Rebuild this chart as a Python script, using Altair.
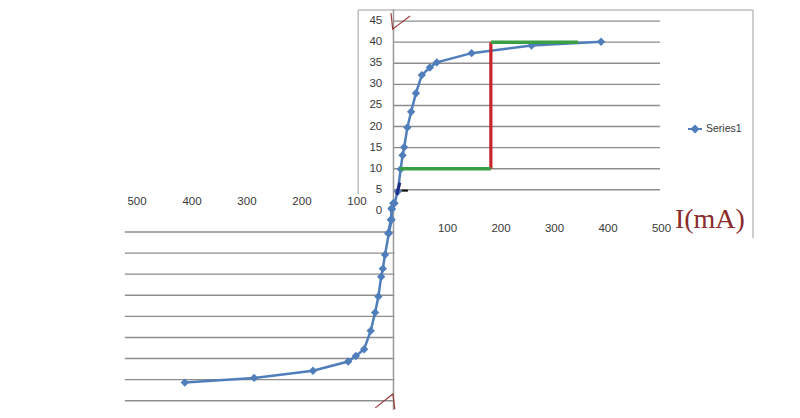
import altair as alt
import pandas as pd

# ---------------- data ----------------
# forward (upper) branch: current I (mA) vs voltage
up_i = [-11, -6, -4, 1, 7, 12.5, 16, 19, 25, 32, 41, 52, 67, 80, 145, 257, 387]
up_v = [-5.3, -2.1, 0.4, 1.8, 4.6, 9.9, 13.2, 15.1, 19.8, 23.5, 27.9, 32.2, 34.0, 35.2, 37.4, 39.2, 40.1]
# reverse (lower) branch, read against the lower axis
low_i = [-34, -37, -37, -42, -49, -53, -56, -61, -67, -75, -87, -102, -116, -180, -287, -413]
low_v = [1.8, 0.6, -2.1, -5.3, -10.4, -13.7, -15.6, -20.3, -24.1, -28.4, -32.8, -34.4, -35.7, -37.9, -39.6, -40.7]

y_ticks = [0, 5, 10, 15, 20, 25, 30, 35, 40, 45]
up_x_ticks = [100, 200, 300, 400, 500]
low_x_ticks = [-500, -400, -300, -200, -100]
up_grid = [5, 10, 15, 20, 25, 30, 35, 40, 45]
low_grid = [-5, -10, -15, -20, -25, -30, -35, -40, -45]

# handwritten construction lines
red_x = [181, 181]
red_y = [10, 40]
green_low_x = [11, 181]
green_low_y = [10, 10]
green_up_x = [181, 344]
green_up_y = [40, 40]
navy_x = [5, 11]
navy_y = [3.8, 6.7]
dash_x = [14, 26]
dash_y = [4.8, 4.8]
scrib_top_x = [-5.6, -2.4, 8, 30]
scrib_top_y = [46.9, 43.1, 44.1, 46.2]
scrib_bot_x = [-35, -2, 1.5]
scrib_bot_y = [-46.7, -43.4, -47.0]

series_name = "Series1"

# ---------------- scales ----------------
XU = [-721.5, 743.9]   # upper panel x scale
XL = [-734.5, 691.0]   # lower panel x scale
YD = [-47.2, 48.1]

BLUE = "#4f7ebb"
GRID = "#8d8d8d"
LABEL = "#383838"
FONT = "Liberation Sans"


def xs(field, dom):
    return alt.X(field, type="quantitative", scale=alt.Scale(domain=dom, nice=False, zero=False), axis=None)


def ys(field):
    return alt.Y(field, type="quantitative", scale=alt.Scale(domain=YD, nice=False, zero=False), axis=None)


# frame of the pasted upper chart
frame_df = pd.DataFrame({"x": [-67, 671, -67], "x2": [671, 671, -67], "y": [47.6, 47.6, 47.6], "y2": [47.6, -6.4, 4.0]})
frame = alt.Chart(frame_df).mark_rule(color="#bdbdbd", strokeWidth=1.5).encode(
    x=xs("x", XU), x2=alt.X2("x2"), y=ys("y"), y2=alt.Y2("y2"))

# gridlines
ug_df = pd.DataFrame({"y": up_grid, "x": [0] * len(up_grid), "x2": [497] * len(up_grid)})
ugrid = alt.Chart(ug_df).mark_rule(color=GRID, strokeWidth=1.4).encode(
    x=xs("x", XU), x2=alt.X2("x2"), y=ys("y"))
lg_df = pd.DataFrame({"y": low_grid, "x": [-522] * len(low_grid), "x2": [-32] * len(low_grid)})
lgrid = alt.Chart(lg_df).mark_rule(color=GRID, strokeWidth=1.4).encode(
    x=xs("x", XL), x2=alt.X2("x2"), y=ys("y"))

# vertical axis line
ax_df = pd.DataFrame({"x": [-1], "y": [47.8], "y2": [-47.2]})
vaxis = alt.Chart(ax_df).mark_rule(color="#9a9a9a", strokeWidth=1.5).encode(
    x=xs("x", XU), y=ys("y"), y2=alt.Y2("y2"))

# tick labels
yl_df = pd.DataFrame({"v": y_ticks, "x": [-22] * len(y_ticks)})
ylabels = alt.Chart(yl_df).mark_text(align="right", baseline="middle", font=FONT, fontSize=11.5, color=LABEL).encode(
    x=xs("x", XU), y=ys("v"), text=alt.Text("v:Q"))
uxl_df = pd.DataFrame({"v": up_x_ticks, "y": [-4.3] * len(up_x_ticks)})
uxlabels = alt.Chart(uxl_df).mark_text(align="center", baseline="middle", font=FONT, fontSize=11.5, color=LABEL).encode(
    x=xs("v", XU), y=ys("y"), text=alt.Text("v:Q"))
lxl_df = pd.DataFrame({"v": low_x_ticks, "y": [2.2] * len(low_x_ticks)})
lxlabels = alt.Chart(lxl_df).transform_calculate(t="abs(datum.v)").mark_text(
    align="center", baseline="middle", font=FONT, fontSize=11.5, color=LABEL).encode(
    x=xs("v", XL), y=ys("y"), text=alt.Text("t:Q"))

# curve
up_df = pd.DataFrame({"i": up_i, "v": up_v, "k": list(range(len(up_i))), "s": [series_name] * len(up_i)})
low_df = pd.DataFrame({"i": low_i, "v": low_v, "k": list(range(len(low_i))), "s": [series_name] * len(low_i)})

color_enc = alt.Color("s:N", scale=alt.Scale(domain=[series_name], range=[BLUE]), legend=alt.Legend(
    title=None, orient="none", legendX=679, legendY=113, symbolType="M-1,0L1,0M0,-0.45L0.45,0L0,0.45L-0.45,0Z",
    symbolSize=196, symbolStrokeWidth=2, symbolFillColor=BLUE, symbolStrokeColor=BLUE, labelFont=FONT,
    labelFontSize=10.5, labelColor=LABEL, labelOffset=3, padding=0))

up_line = alt.Chart(up_df).mark_line(color=BLUE, strokeWidth=2.5).encode(
    x=xs("i", XU), y=ys("v"), order="k:Q")
up_pts = alt.Chart(up_df).mark_point(shape="diamond", filled=True, size=70, opacity=1).encode(
    x=xs("i", XU), y=ys("v"), color=color_enc)
low_line = alt.Chart(low_df).mark_line(color=BLUE, strokeWidth=2.5).encode(
    x=xs("i", XL), y=ys("v"), order="k:Q")
low_pts = alt.Chart(low_df).mark_point(shape="diamond", filled=True, size=70, opacity=1, color=BLUE).encode(
    x=xs("i", XL), y=ys("v"))


def seg(xv, yv, color, width, dom=XU):
    d = pd.DataFrame({"x": xv, "y": yv, "k": list(range(len(xv)))})
    return alt.Chart(d).mark_line(color=color, strokeWidth=width).encode(x=xs("x", dom), y=ys("y"), order="k:Q")


red = seg(red_x, red_y, "#c8232a", 3.2)
g1 = seg(green_low_x, green_low_y, "#3a9e44", 3.5)
g2 = seg(green_up_x, green_up_y, "#3a9e44", 3.5)
navy = seg(navy_x, navy_y, "#1e2c86", 3)
dash = seg(dash_x, dash_y, "#111111", 2)
s1 = seg(scrib_top_x, scrib_top_y, "#9a3b3b", 1.2)
s2 = seg(scrib_bot_x, scrib_bot_y, "#9a3b3b", 1.2)

ima_df = pd.DataFrame({"x": [525], "y": [-2.1], "t": ["I(mA)"]})
ima = alt.Chart(ima_df).mark_text(font="Liberation Serif", fontSize=28, color="#8b2c2c", align="left",
                                  baseline="middle", fontWeight="normal").encode(
    x=xs("x", XU), y=ys("y"), text="t:N")

chart = alt.layer(
    frame, ugrid, lgrid, vaxis, ylabels, uxlabels, lxlabels,
    up_line, low_line, up_pts, low_pts, red, g1, g2, navy, dash, s1, s2, ima
).resolve_scale(x="independent").properties(
    width=784, height=402, autosize=alt.AutoSizeParams(type="none"), padding=0
).configure_view(stroke=None)

chart.save("out.html", embed_options={"renderer": "svg", "actions": False})
